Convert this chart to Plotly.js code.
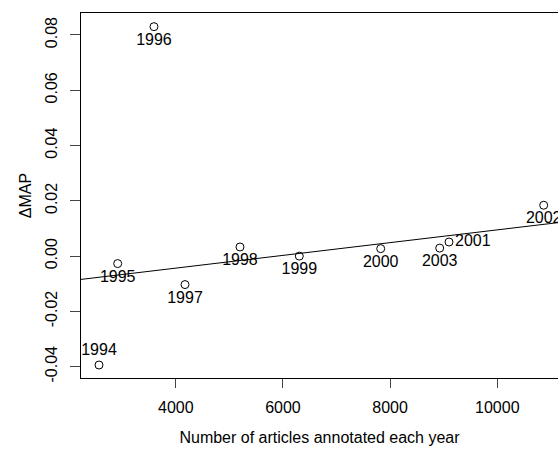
<!DOCTYPE html>
<html>
<head>
<meta charset="utf-8">
<script src="https://cdn.plot.ly/plotly-3.0.1.min.js"></script>
<style>html,body{margin:0;padding:0;background:#fff;}</style>
</head>
<body>
<div id="chart" style="width:558px;height:453px;"></div>
<script>
// Data
const years    = ["1994","1995","1996","1997","1998","1999","2000","2001","2002","2003"];
const articles = [2567, 2916, 3593, 4172, 5198, 6305, 7824, 9099, 10866, 8925];
const deltaMAP = [-0.0394, -0.0027, 0.0830, -0.0103, 0.0033, 0.0000, 0.0027, 0.0051, 0.0184, 0.0029];
const labelPos = ["top center","bottom center","bottom center","bottom center","bottom center",
                  "bottom center","bottom center","middle right","bottom center","bottom center"];
// Fitted line drawn on the plot (intercept, slope)
const fitIntercept = -0.01358;
const fitSlope = 2.307e-6;
// Axis ticks
const xTicks = [4000, 6000, 8000, 10000];
const yTicks = [-0.04, -0.02, 0.00, 0.02, 0.04, 0.06, 0.08];
const yTickText = ["-0.04", "-0.02", "0.00", "0.02", "0.04", "0.06", "0.08"];

const xRange = [2231, 11133];
const yRange = [-0.0441, 0.08795];

const font = "Liberation Sans, Arial, Helvetica, sans-serif";

const fitX = [xRange[0], xRange[1]];
const fitY = fitX.map(x => fitIntercept + fitSlope * x);

const traces = [
  {
    x: fitX, y: fitY, mode: "lines", type: "scatter",
    line: {color: "#000", width: 1}, hoverinfo: "skip", showlegend: false
  },
  {
    x: articles, y: deltaMAP, mode: "markers+text", type: "scatter",
    text: years, textposition: labelPos,
    textfont: {family: font, size: 16, color: "#000"},
    marker: {symbol: "circle-open", size: 8, color: "#000", line: {width: 1, color: "#000"}},
    cliponaxis: false, showlegend: false
  }
];

const layout = {
  width: 558, height: 453,
  margin: {l: 81, r: 0, t: 13, b: 75},
  paper_bgcolor: "#fff", plot_bgcolor: "#fff",
  font: {family: font, size: 16, color: "#000"},
  showlegend: false,
  xaxis: {
    range: xRange, tickvals: xTicks, ticktext: xTicks.map(String),
    ticks: "outside", ticklen: 9, tickwidth: 1, tickcolor: "#444",
    ticklabelstandoff: 6,
    showline: true, linecolor: "#000", linewidth: 1, mirror: true,
    showgrid: false, zeroline: false,
    tickfont: {family: font, size: 16, color: "#000"},
    title: {text: "Number of articles annotated each year", font: {family: font, size: 16, color: "#000"}, standoff: 16}
  },
  yaxis: {
    range: yRange, tickvals: yTicks, ticktext: yTickText, tickangle: -90,
    ticks: "outside", ticklen: 10, tickwidth: 1, tickcolor: "#444",
    ticklabelstandoff: 7,
    showline: true, linecolor: "#000", linewidth: 1, mirror: false,
    showgrid: false, zeroline: false,
    tickfont: {family: font, size: 16, color: "#000"},
    title: {text: "ΔMAP", font: {family: font, size: 16, color: "#000"}, standoff: 6}
  }
};

Plotly.newPlot("chart", traces, layout, {displayModeBar: false, staticPlot: true});
</script>
</body>
</html>
